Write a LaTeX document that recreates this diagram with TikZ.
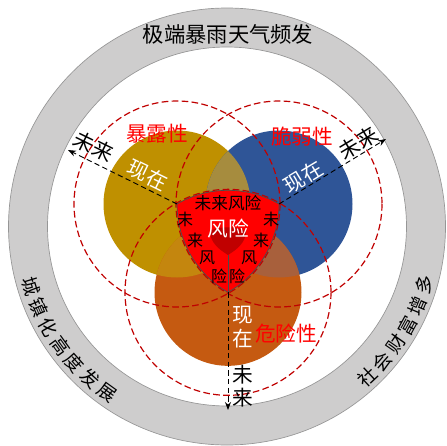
\documentclass[tikz,border=0pt]{standalone}
\usepackage{fontspec}
\setmainfont{Noto Sans CJK SC}
\usetikzlibrary{calc,arrows.meta}
\definecolor{ringgray}{RGB}{206,205,205}
\definecolor{ringedge}{RGB}{150,150,150}
\definecolor{gold}{RGB}{191,144,0}
\definecolor{navy}{RGB}{47,85,151}
\definecolor{rust}{RGB}{197,90,17}
\definecolor{goldnavy}{RGB}{166,140,62}
\definecolor{goldrust}{RGB}{196,134,14}
\definecolor{navyrust}{RGB}{168,96,60}
\definecolor{dashred}{RGB}{192,0,0}
\definecolor{riskred}{RGB}{255,0,0}
\definecolor{innerred}{RGB}{192,0,0}
\tikzset{
  txt/.style={inner sep=0pt, font=\fontsize{15.5pt}{16pt}\selectfont},
  ringtxt/.style={inner sep=0pt, font=\fontsize{14pt}{15pt}\selectfont},
  smalltxt/.style={inner sep=0pt, font=\fontsize{12pt}{13pt}\selectfont},
  riskdash/.style={draw=dashred, line width=0.9pt, dash pattern=on 5pt off 2.5pt},
  futarrow/.style={draw=black, line width=0.7pt, dash pattern=on 4pt off 2.5pt, -{Stealth[length=6pt,width=4.5pt]}},
  redlabel/.style={txt, text=riskred},
}
\begin{document}
\begin{tikzpicture}[x=0.75pt,y=-0.75pt]
\useasboundingbox (0,0) rectangle (447,446);
\coordinate (O) at (227,226.5);
\coordinate (A) at (177,204);
\coordinate (B) at (279,204);
\coordinate (C) at (228,292.33);
\coordinate (tipL) at (68,150);
\coordinate (tipR) at (386,139);
\coordinate (tipB) at (228,410);

% outer ring
\fill[ringgray, even odd rule] (O) circle[radius=218.5] (O) circle[radius=179.5];
\draw[ringedge, line width=0.5pt] (O) circle[radius=218.5];
\draw[ringedge, line width=0.5pt] (O) circle[radius=179.5];

% coloured circles
\fill[gold] (A) circle[radius=73.5];
\fill[navy] (B) circle[radius=73.5];
\fill[rust] (C) circle[radius=73.5];
\begin{scope}
  \clip (A) circle[radius=73.5];
  \fill[goldnavy] (B) circle[radius=73.5];
  \fill[goldrust] (C) circle[radius=73.5];
\end{scope}
\begin{scope}
  \clip (B) circle[radius=73.5];
  \fill[navyrust] (C) circle[radius=73.5];
\end{scope}

% dashed risk circles
\draw[riskdash] (A) circle[radius=103];
\draw[riskdash] (B) circle[radius=103];
\draw[riskdash] (C) circle[radius=103];

% Reuleaux triangle
\draw[fill=riskred, draw=black!70, line width=0.5pt]
  (A) arc[start angle=-120, end angle=-60, radius=102]
      arc[start angle=0, end angle=60, radius=102]
      arc[start angle=120, end angle=180, radius=102] -- cycle;
% inner shield
\coordinate (ia) at (210,231);
\coordinate (ib) at (246,231);
\coordinate (ic) at (228,255);
\fill[innerred] (ia) .. controls (220,226) and (236,226) .. (ib)
  .. controls (246,243) and (236,250) .. (ic)
  .. controls (220,250) and (210,243) .. (ia) -- cycle;
\draw[black!70, line width=0.5pt] (ic) -- (C);

% arrows
\draw[futarrow] (A) -- (tipL);
\draw[futarrow] (B) -- (tipR);
\draw[futarrow] (C) -- (tipB);

% texts in red shape
\node[txt, font=\fontsize{12.5pt}{13pt}\selectfont] (topfr) at (228,203) {未来风险};
\node[txt, text=white] (fx) at (228,229) {风险};
\node[smalltxt] (l1) at (185,219) {未};
\node[smalltxt] (l2) at (195,240) {来};
\node[smalltxt] (l3) at (207,258) {风};
\node[smalltxt] (l4) at (219,276) {险};
\node[smalltxt] (r1) at (271,219) {未};
\node[smalltxt] (r2) at (261,240) {来};
\node[smalltxt] (r3) at (249,258) {风};
\node[smalltxt] (r4) at (237,276) {险};

% arrow labels
\node[txt, text=white, rotate=-26] (nowL) at (148,175) {现在};
\node[txt, rotate=-26] (futL) at (94,146) {未来};
\node[txt, text=white, rotate=31] (nowR) at (303,177) {现在};
\node[txt, rotate=31] (futR) at (358,143) {未来};
\node[txt, text=white] (nowB1) at (243,315) {现};
\node[txt, text=white] (nowB2) at (243,339) {在};
\node[txt] (futB1) at (243,375) {未};
\node[txt] (futB2) at (243,398) {来};

% red labels
\node[redlabel] (expo) at (157,134) {暴露性};
\node[redlabel] (vuln) at (302,137) {脆弱性};
\node[redlabel] (haz) at (286,334) {危险性};

% ring texts
\node[txt, font=\fontsize{16pt}{17pt}\selectfont] (top) at (228,34) {极端暴雨天气频发};
\foreach \c [count=\i from 0] in {城,镇,化,高,度,发,展} {
  \pgfmathsetmacro\t{197+\i*6.2}
  \node[ringtxt, rotate=\t+90] (lt\i) at ($(O)+(-\t:205)$) {\c};
}
\foreach \c [count=\i from 0] in {社,会,财,富,增,多} {
  \pgfmathsetmacro\t{313+\i*6.1}
  \node[ringtxt, rotate=\t+90] (rt\i) at ($(O)+(-\t:206)$) {\c};
}
\end{tikzpicture}
\end{document}
